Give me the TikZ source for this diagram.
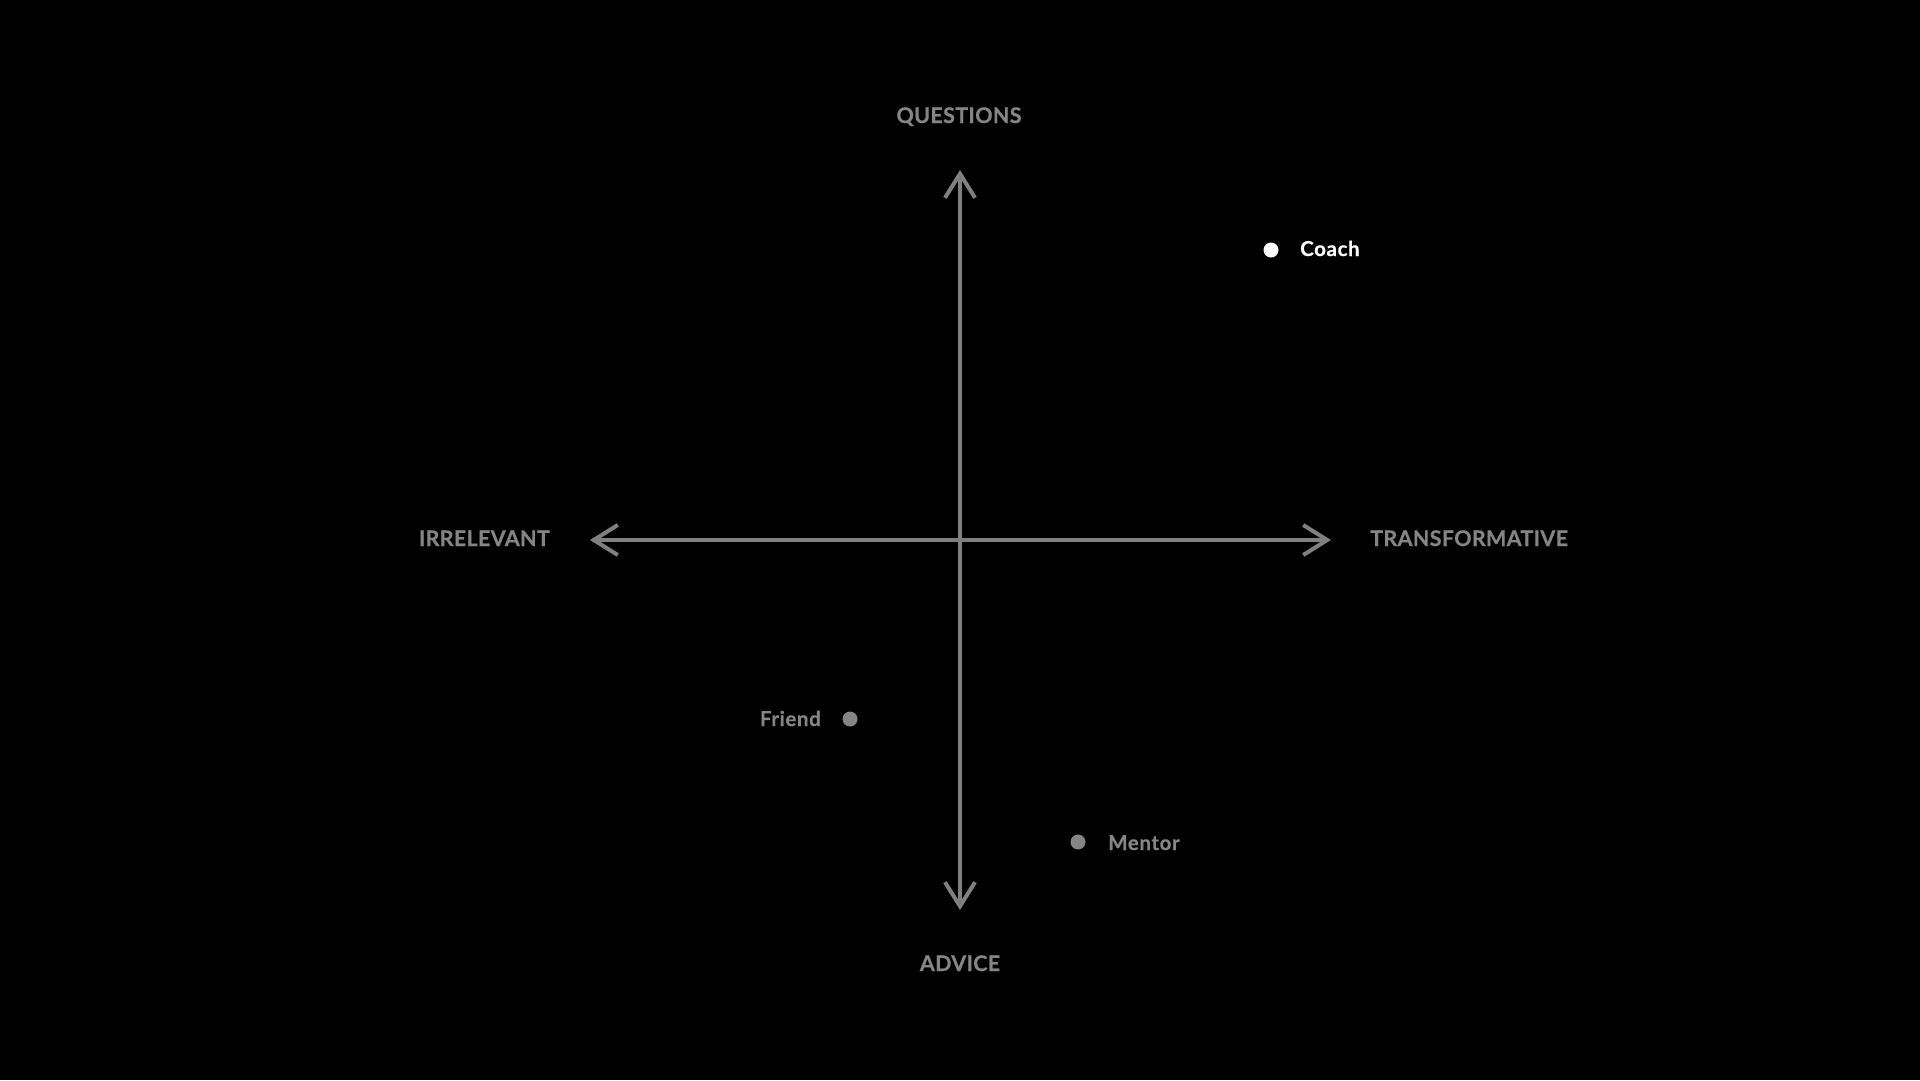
\documentclass[tikz,border=0pt]{standalone}
\usepackage{fontspec}
\setmainfont{Lato}[UprightFont=* Bold, FakeBold=0.6]
\usetikzlibrary{arrows.meta}
\definecolor{axisgray}{HTML}{808080}
\definecolor{labelgray}{HTML}{858585}
\tikzset{
  axis/.style={draw=axisgray, line width=4pt, -{Straight Barb[length=24pt,width=30pt]}},
  axislabel/.style={text=labelgray, font=\fontsize{21.5}{25}\selectfont\addfontfeatures{LetterSpace=1.5}, inner sep=0pt},
  ptlabel/.style={font=\fontsize{20.5}{24}\selectfont\addfontfeatures{LetterSpace=3}, inner sep=0pt},
  dotmark/.style={circle, inner sep=0pt, minimum size=15pt}
}
\begin{document}
\begin{tikzpicture}[x=1pt,y=-1pt]
\fill[black] (0,0) rectangle (1920,1080);
\useasboundingbox (0,0) rectangle (1920,1080);
\coordinate (c) at (960,540);
\coordinate (top) at (960,170);
\coordinate (bot) at (960,910);
\coordinate (left) at (590,540);
\coordinate (right) at (1331,540);
\draw[axis] (c) -- (top);
\draw[axis] (c) -- (bot);
\draw[axis] (c) -- (left);
\draw[axis] (c) -- (right);
\node[axislabel, anchor=base] (q) at (959,123) {QUESTIONS};
\node[axislabel, anchor=base] (a) at (960,971) {ADVICE};
\node[axislabel, anchor=base east] (irr) at (550,546) {IRRELEVANT};
\node[axislabel, anchor=base west] (tr) at (1370,546) {TRANSFORMATIVE};
\node[dotmark, fill=white] (coachdot) at (1271,250) {};
\node[ptlabel, text=white, anchor=base west] (coach) at (1300,256) {Coach};
\node[dotmark, fill=labelgray] (frienddot) at (850,719) {};
\node[ptlabel, text=labelgray, anchor=base east] (friend) at (821,726) {Friend};
\node[dotmark, fill=labelgray] (mentordot) at (1078,842) {};
\node[ptlabel, text=labelgray, anchor=base west] (mentor) at (1108,850) {Mentor};
\end{tikzpicture}
\end{document}
